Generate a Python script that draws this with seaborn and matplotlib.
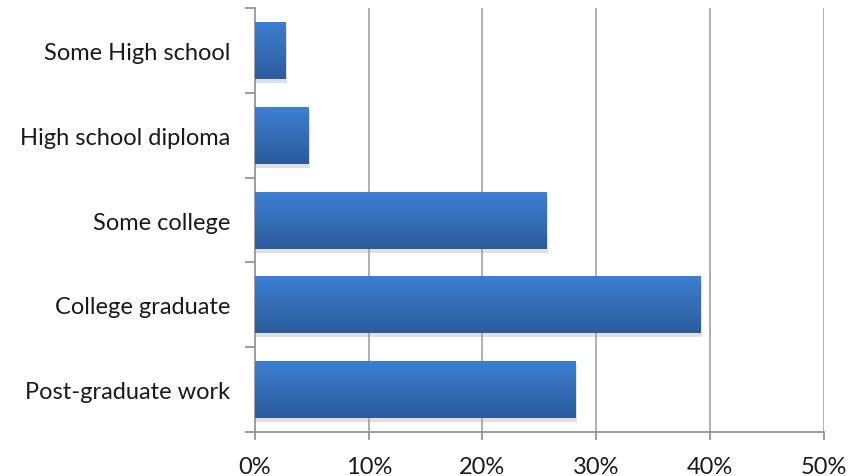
import numpy as np
import pandas as pd
import matplotlib
matplotlib.use("Agg")
import matplotlib.pyplot as plt
import matplotlib.patheffects as pe
from matplotlib.colors import to_rgb
import seaborn as sns

categories = ["Some High school", "High school diploma", "Some college",
              "College graduate", "Post-graduate work"]
shares = [2.7, 4.7, 25.6, 39.2, 28.2]
x_ticks = [0, 10, 20, 30, 40, 50]
x_tick_labels = ["0%", "10%", "20%", "30%", "40%", "50%"]

TOP_COLOR = "#3d7fd3"
BOTTOM_COLOR = "#2c5c9b"
GRID_COLOR = "#a9a9a9"
AXIS_COLOR = "#8c8c8c"

sns.set_theme(style="white")
plt.rcParams['font.family'] = ['Lato', 'DejaVu Sans']

df = pd.DataFrame({"category": categories, "share": shares})

fig = plt.figure(figsize=(8.5, 4.77), dpi=100)
ax = fig.add_axes([0.3, 0.092, 0.669, 0.889])

sns.barplot(data=df, y="category", x="share", orient="h", color=TOP_COLOR,
            width=0.67, ax=ax, zorder=3)

# gradient fill + soft shadow on every bar
top = np.array(to_rgb(TOP_COLOR))
bot = np.array(to_rgb(BOTTOM_COLOR))
grad = np.linspace(0, 1, 64)[:, None, None]
img = top + (bot - top) * grad
for p in ax.patches:
    p.set_edgecolor("none")
    p.set_path_effects([pe.SimplePatchShadow(offset=(1, -3), shadow_rgbFace="#999999", alpha=0.3),
                        pe.Normal()])
    x0, y0 = p.get_x(), p.get_y()
    w, h = p.get_width(), p.get_height()
    im = ax.imshow(img, extent=(x0, x0 + w, y0 + h, y0), aspect="auto",
                   origin="upper", zorder=4, interpolation="bilinear")
    im.set_clip_path(p)

ax.set_xlim(0, 50)
ax.set_ylim(len(categories) - 0.5, -0.5)
ax.set_xticks(x_ticks)
ax.set_xticklabels(x_tick_labels)
ax.set_xlabel("")
ax.set_ylabel("")

# vertical gridlines
for t in x_ticks[1:]:
    ax.axvline(t, color=GRID_COLOR, lw=1.3, zorder=1)

# tick marks between categories on the y axis
ax.set_yticks(np.arange(-0.5, len(categories) + 0.5, 1), minor=True)
ax.tick_params(axis="y", which="major", length=0, pad=18, labelsize=17, labelcolor="#1a1a1a")
ax.tick_params(axis="y", which="minor", length=7, width=1.2, color=AXIS_COLOR, direction="out", left=True)
ax.tick_params(axis="x", which="major", length=6, width=1.2, color=AXIS_COLOR, direction="out",
               bottom=True, pad=11, labelsize=17, labelcolor="#1a1a1a")

for side in ["top", "right"]:
    ax.spines[side].set_visible(False)
for side in ["left", "bottom"]:
    ax.spines[side].set_color(AXIS_COLOR)
    ax.spines[side].set_linewidth(1.2)

fig.savefig("out.png", dpi=100, facecolor="white")
